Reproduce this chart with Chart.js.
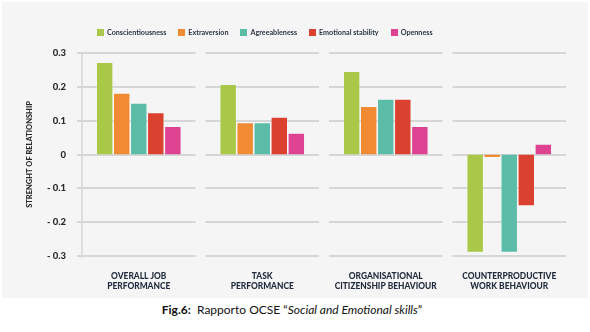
<!DOCTYPE html>
<html>
<head>
<meta charset="utf-8">
<script src="https://cdn.jsdelivr.net/npm/chart.js@4"></script>
<style>
  body { margin: 0; background: #fff; width: 590px; height: 332px; position: relative; overflow: hidden; }
  #bg { position: absolute; left: 2px; top: 2px; width: 586px; height: 296px; background: #f5f5f5; }
  #wrap { position: absolute; left: 0; top: 0; width: 590px; height: 300px; }
  #legend { position: absolute; top: 28px; left: 97px; display: flex; font: bold 7.2px Lato, sans-serif; color: #2b3446; white-space: nowrap; }
  #legend span.item { display: flex; align-items: center; margin-right: 12px; }
  #legend span.box { width: 7px; height: 7px; margin-right: 3px; display: inline-block; }
  #caption { position: absolute; top: 302px; left: 0; width: 584px; text-align: center; font: 12px Lato, "Noto Sans", sans-serif; color: #111; }
</style>
</head>
<body>
<div id="bg"></div>
<div id="wrap"><canvas id="chart" width="590" height="300"></canvas></div>
<div id="legend"></div>
<div id="caption"><b>Fig.6:</b>&nbsp; Rapporto OCSE “<i>Social and Emotional skills</i>”</div>
<script>
const categories = [
  ['OVERALL JOB', 'PERFORMANCE'],
  ['TASK', 'PERFORMANCE'],
  ['ORGANISATIONAL', 'CITIZENSHIP BEHAVIOUR'],
  ['COUNTERPRODUCTIVE', 'WORK BEHAVIOUR']
];
const traits = ['Conscientiousness', 'Extraversion', 'Agreeableness', 'Emotional stability', 'Openness'];
const colors = ['#a9c847', '#f08a33', '#5bbca8', '#da422f', '#dd4391'];

const conscientiousness = [0.273, 0.208, 0.246, -0.29];
const extraversion = [0.182, 0.095, 0.143, -0.01];
const agreeableness = [0.152, 0.095, 0.164, -0.29];
const emotionalStability = [0.124, 0.111, 0.164, -0.152];
const openness = [0.084, 0.064, 0.084, 0.031];
const seriesValues = [conscientiousness, extraversion, agreeableness, emotionalStability, openness];

const yTicks = [-0.3, -0.2, -0.1, 0, 0.1, 0.2, 0.3];

// legend as html
const legendEl = document.getElementById('legend');
traits.forEach((t, i) => {
  const item = document.createElement('span');
  item.className = 'item';
  item.innerHTML = `<span class="box" style="background:${colors[i]}"></span>${t}`;
  legendEl.appendChild(item);
});

// gridlines broken per category, axis line and y title
const segmentGrid = {
  id: 'segmentGrid',
  beforeDatasetsDraw(chart) {
    const { ctx, scales: { x, y }, chartArea } = chart;
    const half = x.width / categories.length / 2 - 5;
    ctx.save();
    ctx.strokeStyle = '#d6d6d6';
    ctx.lineWidth = 2;
    yTicks.forEach(v => {
      const py = Math.round(y.getPixelForValue(v));
      categories.forEach((c, i) => {
        const cx = x.getPixelForValue(i);
        ctx.beginPath();
        ctx.moveTo(cx - half, py);
        ctx.lineTo(cx + half, py);
        ctx.stroke();
      });
      // small tick to the left of the axis
      ctx.beginPath();
      ctx.moveTo(x.getPixelForValue(0) - half - 5, py);
      ctx.lineTo(x.getPixelForValue(0) - half, py);
      ctx.stroke();
    });
    const ax = x.getPixelForValue(0) - half;
    ctx.lineWidth = 1.5;
    ctx.beginPath();
    ctx.moveTo(ax, y.getPixelForValue(0.3));
    ctx.lineTo(ax, y.getPixelForValue(-0.3) + 2);
    ctx.stroke();

    ctx.fillStyle = '#2a2a2a';
    ctx.font = '900 7.5px Lato, sans-serif';
    ctx.textAlign = 'center';
    ctx.textBaseline = 'middle';
    ctx.translate(30, (chartArea.top + chartArea.bottom) / 2);
    ctx.rotate(-Math.PI / 2);
    ctx.fillText('STRENGHT OF RELATIONSHIP', 0, 0);
    ctx.restore();
  }
};

new Chart(document.getElementById('chart').getContext('2d'), {
  type: 'bar',
  data: {
    labels: categories,
    datasets: traits.map((t, i) => ({
      label: t,
      data: seriesValues[i],
      backgroundColor: colors[i],
      borderColor: 'rgba(255,255,255,0.35)',
      borderWidth: 0.8,
      categoryPercentage: 0.69,
      barPercentage: 1.0
    }))
  },
  options: {
    responsive: false,
    animation: false,
    layout: { padding: { top: 53, right: 19, bottom: 0, left: 0 } },
    plugins: { legend: { display: false }, tooltip: { enabled: false } },
    scales: {
      x: {
        grid: { display: false, drawTicks: false },
        border: { display: false },
        ticks: {
          padding: 15,
          color: '#1f2a3c',
          font: { family: 'Lato', weight: '900', size: 8.4, lineHeight: 1.25 },
          maxRotation: 0
        },
        afterFit(s) { s.height = 44; }
      },
      y: {
        min: -0.3,
        max: 0.3,
        grid: { display: false, drawTicks: false },
        border: { display: false },
        afterBuildTicks(s) { s.ticks = yTicks.map(v => ({ value: v })); },
        ticks: {
          padding: 11,
          color: '#2a2a2a',
          font: { family: 'Lato', weight: '900', size: 9.5 },
          callback(v) {
            if (Math.abs(v) < 1e-9) return '0';
            return v < 0 ? '- ' + Math.abs(v).toFixed(1) : v.toFixed(1);
          }
        },
        afterFit(s) { s.width = 77; }
      }
    }
  },
  plugins: [segmentGrid]
});
</script>
</body>
</html>
